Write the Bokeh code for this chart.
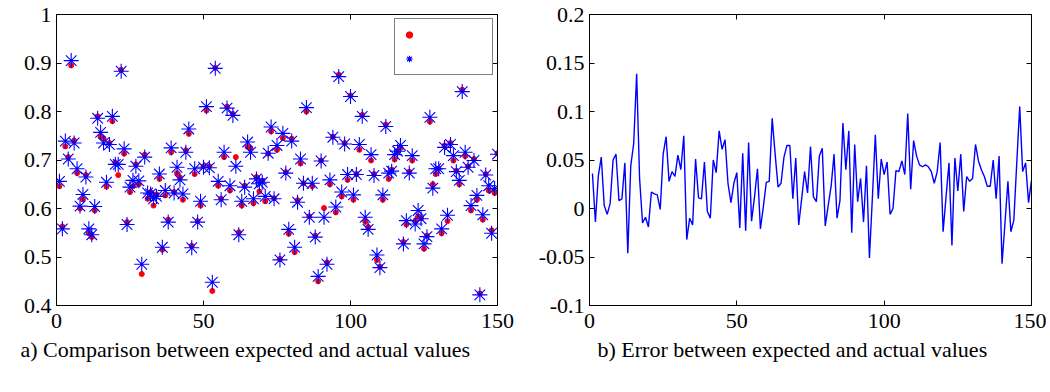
from bokeh.plotting import figure
from bokeh.models import (Range1d, LinearAxis, FixedTicker, CustomJSTickFormatter,
                          Legend, LegendItem, Title)
from bokeh.layouts import row
from bokeh.embed import file_html
from bokeh.resources import INLINE

sample_idx = list(range(1, 151))

expected = [
    0.646, 0.563, 0.728, 0.706, 0.895, 0.740, 0.673, 0.600, 0.619, 0.669,
    0.549, 0.541, 0.596, 0.790, 0.748, 0.744, 0.645, 0.735, 0.780, 0.695,
    0.669, 0.886, 0.713, 0.572, 0.634, 0.646, 0.691, 0.650, 0.465, 0.711,
    0.620, 0.634, 0.606, 0.629, 0.661, 0.515, 0.627, 0.577, 0.716, 0.634,
    0.673, 0.664, 0.618, 0.720, 0.754, 0.523, 0.671, 0.574, 0.606, 0.687,
    0.802, 0.687, 0.430, 0.890, 0.647, 0.620, 0.706, 0.810, 0.637, 0.795,
    0.706, 0.551, 0.606, 0.647, 0.727, 0.723, 0.611, 0.665, 0.635, 0.657,
    0.615, 0.713, 0.759, 0.621, 0.721, 0.496, 0.745, 0.675, 0.548, 0.744,
    0.510, 0.617, 0.693, 0.652, 0.800, 0.584, 0.646, 0.544, 0.450, 0.699,
    0.601, 0.489, 0.650, 0.748, 0.592, 0.876, 0.625, 0.735, 0.659, 0.833,
    0.618, 0.671, 0.721, 0.793, 0.573, 0.562, 0.699, 0.671, 0.494, 0.480,
    0.618, 0.773, 0.661, 0.680, 0.701, 0.718, 0.725, 0.531, 0.567, 0.676,
    0.699, 0.574, 0.584, 0.580, 0.517, 0.544, 0.779, 0.650, 0.671, 0.682,
    0.549, 0.730, 0.574, 0.735, 0.699, 0.678, 0.650, 0.845, 0.708, 0.687,
    0.596, 0.702, 0.618, 0.425, 0.577, 0.671, 0.637, 0.555, 0.632, 0.714,
]

actual = [
    0.656, 0.558, 0.739, 0.702, 0.905, 0.735, 0.682, 0.605, 0.629, 0.665,
    0.558, 0.546, 0.604, 0.786, 0.757, 0.735, 0.654, 0.732, 0.790, 0.691,
    0.691, 0.883, 0.723, 0.567, 0.644, 0.658, 0.687, 0.657, 0.485, 0.706,
    0.632, 0.630, 0.620, 0.625, 0.671, 0.520, 0.637, 0.572, 0.725, 0.632,
    0.685, 0.659, 0.630, 0.716, 0.764, 0.519, 0.682, 0.572, 0.615, 0.685,
    0.810, 0.684, 0.448, 0.889, 0.656, 0.618, 0.716, 0.807, 0.647, 0.792,
    0.687, 0.546, 0.615, 0.644, 0.737, 0.716, 0.620, 0.661, 0.651, 0.654,
    0.625, 0.714, 0.768, 0.620, 0.730, 0.494, 0.755, 0.673, 0.557, 0.739,
    0.520, 0.613, 0.702, 0.652, 0.808, 0.582, 0.652, 0.541, 0.460, 0.698,
    0.582, 0.485, 0.659, 0.747, 0.603, 0.872, 0.634, 0.733, 0.670, 0.831,
    0.628, 0.670, 0.732, 0.790, 0.582, 0.557, 0.711, 0.668, 0.504, 0.478,
    0.628, 0.769, 0.673, 0.677, 0.711, 0.718, 0.730, 0.527, 0.575, 0.673,
    0.709, 0.568, 0.596, 0.579, 0.527, 0.542, 0.788, 0.642, 0.682, 0.682,
    0.558, 0.726, 0.586, 0.732, 0.709, 0.676, 0.658, 0.841, 0.716, 0.685,
    0.606, 0.699, 0.627, 0.422, 0.587, 0.669, 0.647, 0.549, 0.641, 0.712,
]

error = [
    0.036, -0.014, 0.034, 0.053, 0.003, -0.006, 0.005, 0.050, 0.056, 0.008,
    0.010, 0.047, -0.046, 0.044, 0.067, 0.139, 0.031, -0.015, -0.009, -0.019,
    0.017, 0.015, 0.014, -0.001, 0.056, 0.074, 0.028, 0.038, 0.033, 0.055,
    0.040, 0.075, -0.032, -0.010, -0.017, 0.051, 0.011, 0.010, 0.048, -0.003,
    -0.010, 0.050, 0.037, 0.080, 0.061, 0.071, 0.026, 0.006, 0.026, 0.037,
    -0.020, 0.057, -0.023, 0.068, -0.013, 0.012, 0.041, -0.021, 0.002, 0.027,
    0.028, 0.093, 0.056, 0.022, 0.026, 0.053, 0.065, 0.065, 0.010, 0.052,
    -0.017, 0.010, 0.038, 0.016, 0.064, 0.012, 0.007, 0.054, 0.062, -0.018,
    0.003, 0.023, 0.056, -0.010, 0.008, 0.088, 0.040, 0.080, -0.025, 0.066,
    0.007, 0.031, -0.014, 0.044, -0.051, 0.011, 0.076, 0.010, 0.051, 0.035,
    0.048, -0.006, 0.000, 0.039, 0.038, 0.049, 0.035, 0.098, 0.020, 0.070,
    0.054, 0.045, 0.043, 0.045, 0.043, 0.038, 0.026, 0.038, 0.068, -0.024,
    0.012, 0.047, -0.038, 0.052, 0.018, 0.056, -0.003, 0.033, 0.028, 0.031,
    0.066, 0.049, 0.040, 0.033, 0.023, 0.023, 0.050, 0.010, 0.054, -0.057,
    -0.015, 0.028, -0.024, -0.012, 0.047, 0.105, 0.038, 0.047, 0.006, 0.029,
]

x_ticks = [0, 50, 100, 150]
left_y_ticks = [0.4, 0.5, 0.6, 0.7, 0.8, 0.9, 1.0]
right_y_ticks = [-0.1, -0.05, 0.0, 0.05, 0.1, 0.15, 0.2]
caption_a = "a) Comparison between expected and actual values"
caption_b = "b) Error between expected and actual values"

FONT = "Liberation Serif"
FS = "22px"

num_fmt = "return String(Math.round(tick*1000)/1000);"
blank_fmt = "return '';"


def style_axis(ax, ticker, labelled, standoff=5):
    ax.ticker = ticker
    ax.formatter = CustomJSTickFormatter(code=num_fmt if labelled else blank_fmt)
    ax.major_tick_in = 5
    ax.major_tick_out = 0
    ax.minor_tick_line_color = None
    ax.axis_line_color = "black"
    ax.major_tick_line_color = "black"
    ax.major_label_text_font = FONT
    ax.major_label_text_font_size = FS
    ax.major_label_text_color = "black"
    ax.major_label_standoff = standoff


def make_fig(width, y_range, yticks, left_border, right_border, caption, cap_offset):
    p = figure(width=width, height=376, x_range=Range1d(0, 150), y_range=y_range,
               output_backend="svg", toolbar_location=None)
    p.min_border_left = left_border
    p.min_border_right = right_border
    p.min_border_top = 14
    p.min_border_bottom = 71
    p.xgrid.visible = False
    p.ygrid.visible = False
    p.outline_line_color = "black"
    p.outline_line_alpha = 1
    p.background_fill_color = "white"
    p.border_fill_color = "white"
    xt = FixedTicker(ticks=x_ticks)
    yt = FixedTicker(ticks=yticks)
    style_axis(p.xaxis[0], xt, True, standoff=8)
    style_axis(p.yaxis[0], yt, True)
    top = LinearAxis()
    style_axis(top, xt, False)
    right = LinearAxis()
    style_axis(right, yt, False)
    p.add_layout(top, "above")
    p.add_layout(right, "right")
    t = Title(text=caption, align="left", text_font=FONT, text_font_size=FS,
              text_font_style="normal", text_color="black", standoff=8,
              offset=cap_offset)
    p.add_layout(t, "below")
    return p


p1 = make_fig(530, Range1d(0.4, 1.0), left_y_ticks, 56, 33, caption_a, -36)
r_exp = p1.scatter(sample_idx, expected, marker="circle", size=5,
                   fill_color="red", line_color="red")
r_act = p1.scatter(sample_idx, actual, marker="asterisk", size=15,
                   line_color="blue", line_width=1.1)
legend = Legend(items=[LegendItem(label=" ", renderers=[r_exp]),
                       LegendItem(label=" ", renderers=[r_act])],
                location="top_right", padding=6, spacing=5, margin=4,
                glyph_width=16, glyph_height=19, label_standoff=5, label_width=64,
                border_line_color="black", border_line_width=1,
                background_fill_alpha=1)
p1.add_layout(legend)

p2 = make_fig(516, Range1d(-0.1, 0.2), right_y_ticks, 59, 15, caption_b, 8)
p2.line(sample_idx, error, line_color="blue", line_width=1.4)

layout = row(p1, p2)
open("out.html", "w").write(file_html(layout, INLINE))
